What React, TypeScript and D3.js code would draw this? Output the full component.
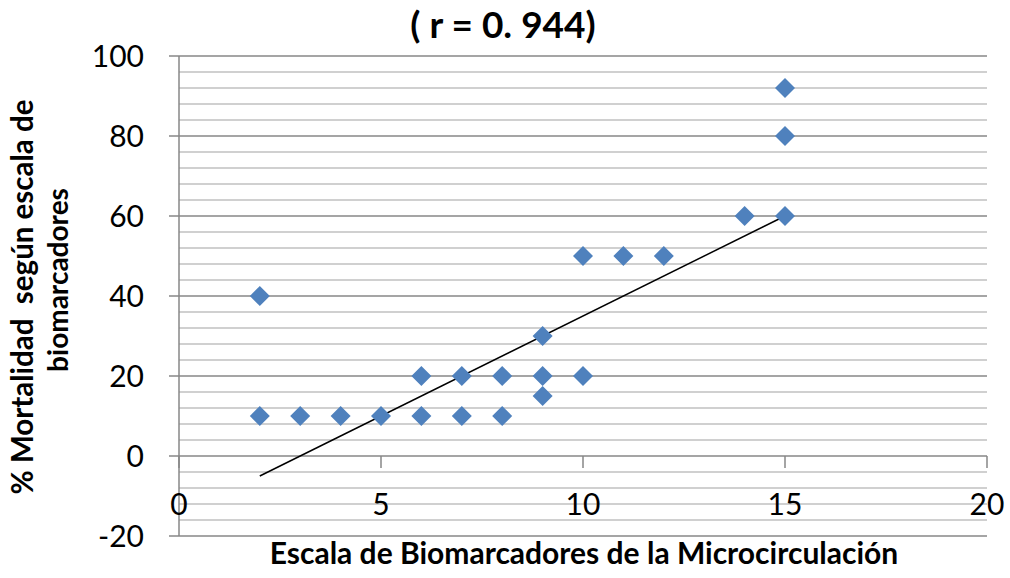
import { useEffect, useRef } from "react";
import * as d3 from "d3";

// scatter data
const xValues = [2, 2, 3, 4, 5, 6, 6, 7, 7, 8, 8, 9, 9, 9, 10, 10, 11, 12, 14, 15, 15, 15];
const yValues = [40, 10, 10, 10, 10, 20, 10, 20, 10, 20, 10, 30, 20, 15, 50, 20, 50, 50, 60, 60, 80, 92];

// linear trend line end points
const trendX = [2, 15];
const trendY = [-5, 60];

const xTicks = [0, 5, 10, 15, 20];
const yTicks = [-20, 0, 20, 40, 60, 80, 100];

const title = "( r = 0. 944)";
const xTitle = "Escala de Biomarcadores de la Microcirculación";
const yTitleLines = ["% Mortalidad  según escala de", "biomarcadores"];

const App = () => {
  const svgRef = useRef<SVGSVGElement>(null);

  useEffect(() => {
    const font = "Lato, 'Open Sans', sans-serif";

    const svg = d3.select(svgRef.current);
    svg.selectAll("*").remove();

    const x = d3.scaleLinear().domain([0, 20]).range([179, 987]);
    const y = d3.scaleLinear().domain([-20, 100]).range([536, 56]);

    // minor gridlines every 4
    const minor = d3.range(-20, 100.1, 4).filter((v) => v % 20 !== 0);
    svg.append("g")
      .selectAll("line")
      .data(minor)
      .join("line")
      .attr("x1", x(0))
      .attr("x2", x(20))
      .attr("y1", (d) => y(d))
      .attr("y2", (d) => y(d))
      .attr("stroke", "#c0c0c0")
      .attr("stroke-width", 1.5);

    // major gridlines + left ticks
    svg.append("g")
      .selectAll("line")
      .data(yTicks)
      .join("line")
      .attr("x1", x(0) - 10)
      .attr("x2", x(20))
      .attr("y1", (d) => y(d))
      .attr("y2", (d) => y(d))
      .attr("stroke", "#878787")
      .attr("stroke-width", 1.5);

    // y axis line
    svg.append("line")
      .attr("x1", x(0))
      .attr("x2", x(0))
      .attr("y1", y(100))
      .attr("y2", y(-20))
      .attr("stroke", "#878787")
      .attr("stroke-width", 1.5);

    // x axis ticks (axis crosses at y = 0)
    svg.append("g")
      .selectAll("line")
      .data(xTicks)
      .join("line")
      .attr("x1", (d) => x(d))
      .attr("x2", (d) => x(d))
      .attr("y1", y(0))
      .attr("y2", y(0) + 12)
      .attr("stroke", "#878787")
      .attr("stroke-width", 1.5);

    // y tick labels
    svg.append("g")
      .selectAll("text")
      .data(yTicks)
      .join("text")
      .attr("x", 144)
      .attr("y", (d) => y(d))
      .attr("dy", "0.36em")
      .attr("text-anchor", "end")
      .attr("font-family", font)
      .attr("font-size", 30)
      .attr("fill", "#000")
      .text((d) => d);

    // x tick labels
    svg.append("g")
      .selectAll("text")
      .data(xTicks)
      .join("text")
      .attr("x", (d) => x(d))
      .attr("y", y(0) + 59)
      .attr("text-anchor", "middle")
      .attr("font-family", font)
      .attr("font-size", 30)
      .attr("fill", "#000")
      .text((d) => d);

    // trend line
    const line = d3.line<number>()
      .x((d) => x(d))
      .y((_, i) => y(trendY[i]));
    svg.append("path")
      .datum(trendX)
      .attr("d", line)
      .attr("fill", "none")
      .attr("stroke", "#000")
      .attr("stroke-width", 1.5);

    // diamonds
    const diamond = d3.symbol().type(d3.symbolSquare).size(200);
    svg.append("g")
      .selectAll("path")
      .data(xValues)
      .join("path")
      .attr("d", diamond)
      .attr("transform", (d, i) => `translate(${x(d)},${y(yValues[i])}) rotate(45)`)
      .attr("fill", "#4f81bd");

    // title
    svg.append("text")
      .attr("x", 503)
      .attr("y", 38)
      .attr("text-anchor", "middle")
      .attr("font-family", font)
      .attr("font-weight", "bold")
      .attr("font-size", 37)
      .attr("fill", "#000")
      .text(title);

    // x axis title
    svg.append("text")
      .attr("x", 584)
      .attr("y", 564)
      .attr("text-anchor", "middle")
      .attr("font-family", font)
      .attr("font-weight", "bold")
      .attr("font-size", 30)
      .attr("fill", "#000")
      .text(xTitle);

    // y axis title (two lines)
    svg.append("g")
      .selectAll("text")
      .data(yTitleLines)
      .join("text")
      .attr("transform", (_, i) => `translate(${i === 0 ? 33 : 68},${i === 0 ? 297 : 280}) rotate(-90)`)
      .attr("text-anchor", "middle")
      .attr("font-family", font)
      .attr("font-weight", "bold")
      .attr("font-size", (_, i) => (i === 0 ? 29.5 : 28))
      .attr("fill", "#000")
      .attr("xml:space", "preserve")
      .style("white-space", "pre")
      .text((d) => d);
  }, []);

  return (
    <svg
      ref={svgRef}
      width={1010}
      height={578}
      style={{ position: "absolute", left: 0, top: 0, background: "#fff" }}
    />
  );
};

export default App;
